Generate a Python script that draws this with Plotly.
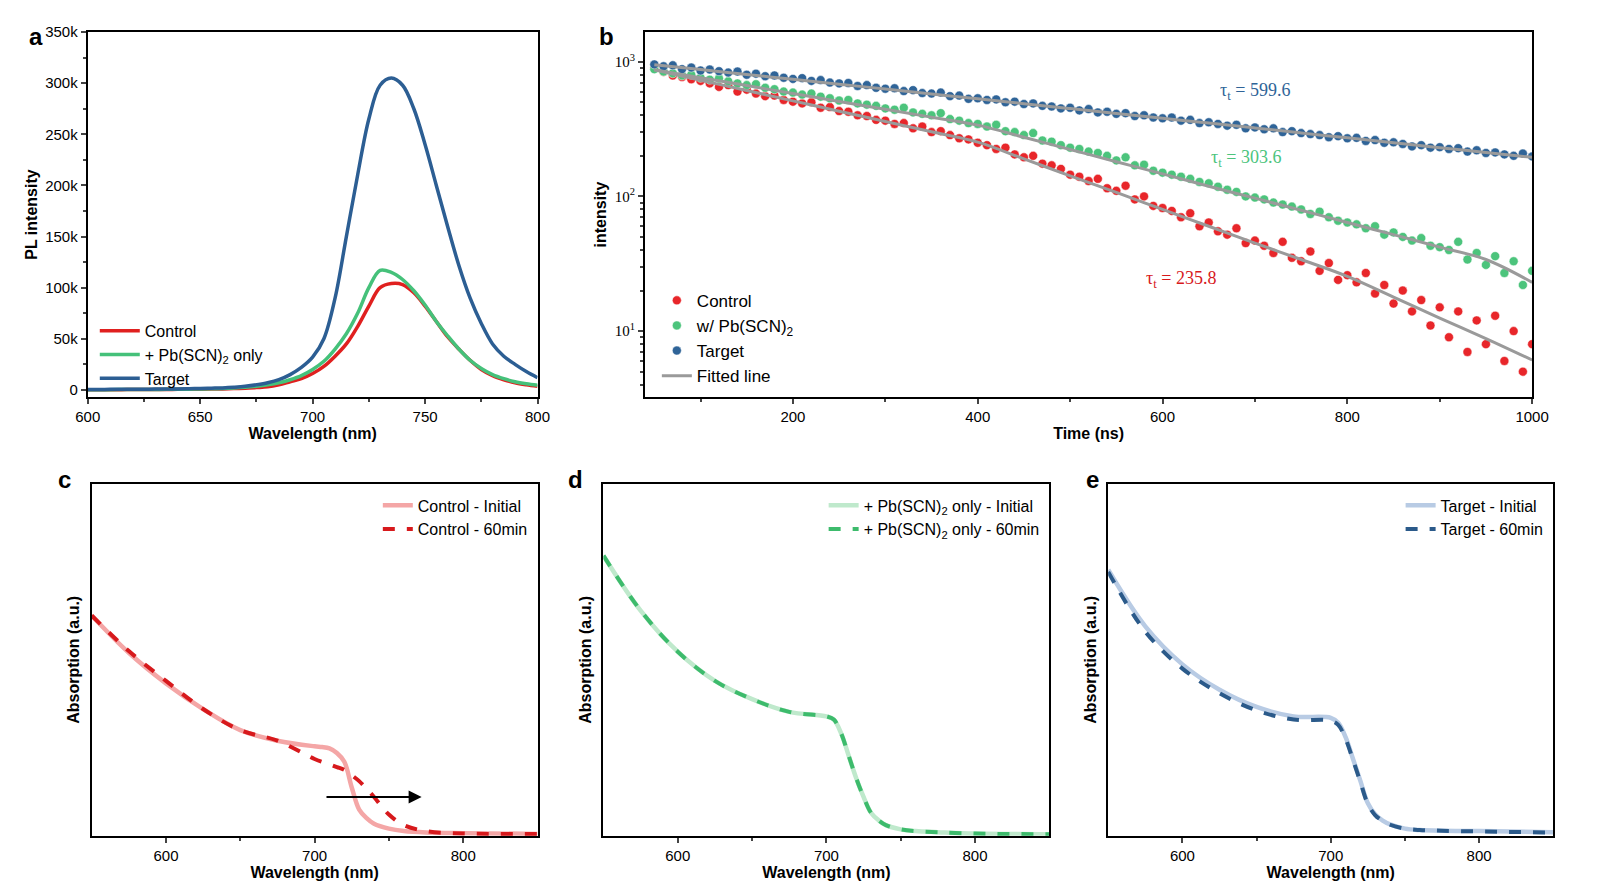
import math
import plotly.graph_objects as go

# ---- panel a : PL spectra ----
wl_pl = [600, 605, 610, 615, 620, 625, 630, 635, 640, 645, 650, 655, 660, 665, 670, 675, 680, 685, 690, 695,
         700, 705, 710, 715, 720, 725, 730, 735, 740, 745, 750, 755, 760, 765, 770, 775, 780, 785, 790, 795, 800]
pl_control = [300, 300, 300, 300, 350, 400, 450, 500, 550, 600, 700, 800, 1000, 1300, 1700, 2300, 3000, 5000, 8000, 11000,
              16000, 23000, 33000, 45000, 62000, 82000, 100000, 104000, 103000, 95000, 82000, 67000, 52000, 40000, 29000,
              20000, 14000, 10000, 7000, 5000, 3500]
pl_pbscn = [300, 300, 300, 350, 400, 450, 500, 550, 650, 750, 900, 1100, 1400, 1900, 2600, 3600, 5000, 7000, 10000, 14000,
            20000, 28000, 40000, 55000, 75000, 100000, 117000, 115000, 108000, 97000, 83000, 67000, 53000, 40000, 29000,
            21000, 15000, 11000, 8000, 6000, 4500]
pl_target = [500, 500, 550, 600, 650, 700, 800, 900, 1000, 1200, 1400, 1700, 2000, 2600, 3500, 5000, 7000, 10000, 15000, 22000,
             32000, 50000, 90000, 150000, 210000, 265000, 298000, 305000, 298000, 275000, 240000, 200000, 160000, 122000, 90000,
             65000, 45000, 33000, 25000, 18000, 12000]

# ---- panel b : TRPL decay ----
t_ns = list(range(50, 1001, 10))
trpl_target = [955, 925, 940, 880, 905, 860,
               875, 850, 830, 845, 800, 815, 780, 790, 760, 745,
               755, 720, 730, 700, 690, 695, 660, 670, 640, 630,
               635, 605, 615, 585, 580, 590, 555, 560, 530, 535,
               520, 525, 500, 505, 485, 490, 470, 465, 450, 455,
               435, 445, 420, 425, 410, 415, 395, 400, 385, 380,
               385, 365, 370, 350, 355, 345, 335, 340, 320, 325,
               315, 320, 300, 305, 295, 290, 285, 275, 280, 270,
               272, 258, 262, 250, 252, 245, 235, 240, 230, 232,
               225, 228, 215, 220, 210, 212, 205, 200, 208, 198]
trpl_pbscn = [880, 845, 820, 790, 800, 760,
              735, 750, 715, 690, 670, 680, 640, 625, 600, 590,
              570, 580, 550, 535, 515, 520, 490, 480, 470, 450,
              440, 455, 420, 410, 400, 415, 375, 365, 350, 345,
              330, 340, 305, 300, 285, 295, 260, 255, 240, 230,
              225, 215, 210, 200, 185, 195, 170, 172, 155, 150,
              145, 140, 135, 128, 125, 118, 112, 108, 100, 98,
              95, 90, 87, 84, 80, 74, 77, 70, 66, 64,
              62, 58, 60, 52, 54, 50, 47, 49, 43, 42,
              40, 46, 34, 38, 31, 36, 27, 33, 22, 28]
trpl_control = [900, 840, 790, 770, 740, 720,
                690, 650, 670, 600, 620, 580, 555, 560, 520, 505,
                490, 500, 455, 460, 430, 425, 400, 395, 370, 365,
                345, 350, 320, 330, 300, 305, 285, 270, 265, 250,
                240, 225, 230, 205, 195, 200, 175, 170, 160, 145,
                140, 130, 135, 115, 110, 120, 95, 100, 85, 82,
                78, 70, 75, 60, 64, 55, 52, 58, 45, 47,
                43, 38, 46, 35, 33, 39, 28, 32, 24, 26,
                23, 27, 19, 22, 16, 20, 14, 17, 11, 15,
                9, 14, 7, 12, 8, 13, 6, 10, 5, 8]
t_fit = [50, 100, 150, 200, 250, 300, 350, 400, 450, 500, 550, 600, 650, 700, 750, 800, 850, 900, 950, 1000]
fit_target = [950, 874, 804, 740, 681, 626, 576, 530, 488, 449, 413, 380, 350, 322, 296, 272, 250, 230, 212, 195]
fit_pbscn = [870, 760, 665, 580, 507, 443, 387, 338, 275, 223, 181, 147, 119, 97, 79, 64, 52, 42, 34, 23]
fit_control = [870, 729, 611, 512, 429, 360, 302, 253, 190, 142, 107, 80, 60, 45, 34, 25.5, 17.9, 12.5, 8.8, 6.1]

# ---- panels c-e : absorption ----
wl_abs = [550, 575, 600, 625, 650, 675, 700, 705, 710, 715, 720, 725, 730, 735, 740, 750, 760, 775, 800, 850]
abs_control_init = [0.626, 0.52, 0.433, 0.36, 0.30, 0.27, 0.254, 0.252, 0.248, 0.235, 0.21, 0.137, 0.074, 0.05, 0.034, 0.02, 0.013, 0.009, 0.007, 0.005]
abs_control_60 = [0.626, 0.525, 0.44, 0.36, 0.30, 0.27, 0.218, 0.21, 0.203, 0.195, 0.187, 0.172, 0.155, 0.133, 0.11, 0.06, 0.03, 0.013, 0.006, 0.005]
abs_pbscn_init = [0.796, 0.64, 0.523, 0.44, 0.388, 0.352, 0.339, 0.33, 0.29, 0.227, 0.164, 0.11, 0.065, 0.044, 0.03, 0.018, 0.013, 0.01, 0.006, 0.004]
abs_pbscn_60 = [0.796, 0.64, 0.523, 0.44, 0.388, 0.352, 0.339, 0.33, 0.29, 0.227, 0.164, 0.11, 0.065, 0.044, 0.03, 0.018, 0.013, 0.01, 0.006, 0.004]
abs_target_init = [0.756, 0.595, 0.487, 0.415, 0.366, 0.339, 0.335, 0.321, 0.28, 0.218, 0.155, 0.092, 0.06, 0.043, 0.032, 0.02, 0.016, 0.014, 0.013, 0.01]
abs_target_60 = [0.75, 0.58, 0.475, 0.405, 0.356, 0.33, 0.327, 0.315, 0.275, 0.215, 0.152, 0.09, 0.058, 0.042, 0.031, 0.02, 0.016, 0.014, 0.012, 0.009]

RED, GREEN, BLUE = '#e0201f', '#45c17a', '#2c5e93'
FONT = 'Liberation Sans'
SERIF = 'Liberation Serif'

fig = go.Figure()

# a
for name, y, c in [('Control', pl_control, RED), ('+ Pb(SCN)<sub>2</sub> only', pl_pbscn, GREEN), ('Target', pl_target, BLUE)]:
    fig.add_trace(go.Scatter(x=wl_pl, y=y, mode='lines', name=name, line=dict(color=c, width=3.5, shape='spline'),
                             xaxis='x', yaxis='y', legend='legend'))

# b
for name, y, c in [('Control', trpl_control, '#e8262a'), ('w/ Pb(SCN)<sub>2</sub>', trpl_pbscn, '#4cc47c'), ('Target', trpl_target, '#2f6498')]:
    fig.add_trace(go.Scatter(x=t_ns, y=y, mode='markers', name=name,
                             marker=dict(color=c, size=9, line=dict(color='rgba(255,255,255,0.5)', width=1)),
                             xaxis='x2', yaxis='y2', legend='legend2'))
for i, y in enumerate([fit_control, fit_pbscn, fit_target]):
    fig.add_trace(go.Scatter(x=t_fit, y=y, mode='lines', name='Fitted line', showlegend=(i == 0),
                             line=dict(color='#9a9a9a', width=3, shape='spline'),
                             xaxis='x2', yaxis='y2', legend='legend2'))

# c, d, e
panels = [
    (3, 'Control', abs_control_init, abs_control_60, '#f4a6a6', '#d7191c'),
    (4, '+ Pb(SCN)<sub>2</sub> only', abs_pbscn_init, abs_pbscn_60, '#bfe9cc', '#3dbb6c'),
    (5, 'Target', abs_target_init, abs_target_60, '#b8cbe4', '#2b5a8a'),
]
for n, lab, yi, y60, ci, c60 in panels:
    fig.add_trace(go.Scatter(x=wl_abs, y=yi, mode='lines', name=lab + ' - Initial',
                             line=dict(color=ci, width=4.5, shape='spline'),
                             xaxis=f'x{n}', yaxis=f'y{n}', legend=f'legend{n}'))
    fig.add_trace(go.Scatter(x=wl_abs, y=y60, mode='lines', name=lab + ' - 60min',
                             line=dict(color=c60, width=4, dash='dash', shape='spline'),
                             xaxis=f'x{n}', yaxis=f'y{n}', legend=f'legend{n}'))

ax = dict(showline=True, linecolor='black', linewidth=2, mirror=True, ticks='outside', tickwidth=1.5,
          ticklen=5, showgrid=False, zeroline=False, tickfont=dict(size=15, color='black'),
          title_font=dict(size=16, color='black'))

def bold(s):
    return '<b>' + s + '</b>'

log_minor = [4, 5, 6, 7, 8, 9, 20, 30, 40, 50, 60, 70, 80, 90, 200, 300, 400, 500, 600, 700, 800, 900]

fig.update_layout(
    width=1600, height=896, paper_bgcolor='white', plot_bgcolor='white',
    margin=dict(l=0, r=0, t=0, b=0), font=dict(family=FONT, color='black'),
    xaxis=dict(ax, domain=[0.0425, 0.329], range=[600, 800], dtick=50, anchor='y',
               minor=dict(ticks='outside', dtick=25, ticklen=3), title=dict(text=bold('Wavelength (nm)'), standoff=4)),
    yaxis=dict(ax, domain=[0.571, 0.983], range=[-7000, 350000], anchor='x',
               tickvals=[0, 50000, 100000, 150000, 200000, 250000, 300000, 350000],
               ticktext=['0', '50k', '100k', '150k', '200k', '250k', '300k', '350k'],
               minor=dict(ticks='outside', dtick=25000, ticklen=3), title=dict(text=bold('PL intensity'), standoff=4)),
    xaxis2=dict(ax, domain=[0.3975, 0.9625], range=[40, 1000], dtick=200, tick0=0, anchor='y2',
                minor=dict(ticks='outside', dtick=100, ticklen=3), title=dict(text=bold('Time (ns)'), standoff=4)),
    yaxis2=dict(ax, domain=[0.571, 0.983], type='log', range=[0.51, 3.22], anchor='x2',
                tickvals=[10, 100, 1000], ticktext=['10<sup>1</sup>', '10<sup>2</sup>', '10<sup>3</sup>'],
                tickfont=dict(size=15, family=SERIF), minor=dict(ticks='outside', ticklen=3, tickvals=log_minor),
                title=dict(text=bold('intensity'), standoff=4)),
    legend=dict(x=0.047, y=0.665, xanchor='left', yanchor='top', bgcolor='rgba(0,0,0,0)', font=dict(size=16),
                tracegroupgap=0, itemwidth=40),
    legend2=dict(x=0.405, y=0.70, xanchor='left', yanchor='top', bgcolor='rgba(0,0,0,0)', font=dict(size=17)),
)
doms = {3: [0.045, 0.329], 4: [0.371, 0.655], 5: [0.6925, 0.976]}
for n, d in doms.items():
    fig.update_layout({
        f'xaxis{n}': dict(ax, domain=d, range=[550, 850], tickvals=[600, 700, 800], anchor=f'y{n}',
                          minor=dict(ticks='outside', tickvals=[650, 750], ticklen=3),
                          title=dict(text=bold('Wavelength (nm)'), standoff=4)),
        f'yaxis{n}': dict(ax, domain=[0.076, 0.473], range=[0, 1], showticklabels=False, ticks='', anchor=f'x{n}',
                          title=dict(text=bold('Absorption (a.u.)'), standoff=6)),
        f'legend{n}': dict(x=d[1] - 0.003, y=0.468, xanchor='right', yanchor='top', bgcolor='rgba(0,0,0,0)',
                           font=dict(size=16), tracegroupgap=0),
    })

# lifetime labels
for txt, x, y, c in [('τ<sub>t</sub> = 599.6', 700, 600, '#2f6498'), ('τ<sub>t</sub> = 303.6', 690, 190, '#4cc47c'),
                     ('τ<sub>t</sub> = 235.8', 620, 24, '#d7191c')]:
    fig.add_annotation(x=x, y=math.log10(y), xref='x2', yref='y2', text=txt, showarrow=False,
                       font=dict(family=SERIF, size=18, color=c))

# arrow in panel c
fig.add_annotation(x=772, y=0.11, ax=707, ay=0.11, xref='x3', yref='y3', axref='x3', ayref='y3',
                   text='', showarrow=True, arrowhead=2, arrowsize=1.3, arrowwidth=2, arrowcolor='black')

# panel letters
for letter, x, y in [('a', 0.004, 0.995), ('b', 0.367, 0.995), ('c', 0.022, 0.495), ('d', 0.347, 0.495), ('e', 0.677, 0.495)]:
    fig.add_annotation(x=x, y=y, xref='paper', yref='paper', text=bold(letter), showarrow=False,
                       xanchor='left', yanchor='top', font=dict(size=24, color='black'))

fig.write_html("out.html")
